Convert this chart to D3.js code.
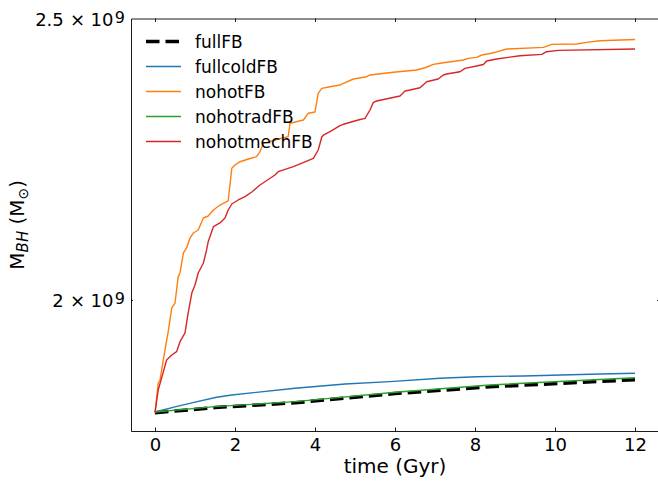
<!DOCTYPE html>
<html><head><meta charset="utf-8">
<script src="https://cdn.jsdelivr.net/npm/d3@7"></script>
<style>body{margin:0;background:#fff}svg{display:block}</style>
</head><body>
<svg id="c" width="658" height="481"></svg>
<script>
// ---- data (masses in units of 10^9 Msun, time in Gyr) ----
const seriesNames  = ["fullFB","fullcoldFB","nohotFB","nohotradFB","nohotmechFB"];
const seriesColors = ["#000000","#1f77b4","#ff7f0e","#2ca02c","#d62728"];
const xTickValues = [0,2,4,6,8,10,12];
const yTickValues = [2.0, 2.5];
const yTickMantissa = ["2", "2.5"];
const yTickExponent = "9";

const fullFB_t = [0, 1.5, 3.5, 6, 8.375, 12];
const fullFB_m = [1.829, 1.8365, 1.8435, 1.857, 1.867, 1.8775];

const fullcoldFB_t = [0, 0.5, 1.0, 1.54, 1.92, 3.5, 4.75, 5.875, 7.125, 8.04, 9.21, 10.875, 12];
const fullcoldFB_m = [1.830, 1.8375, 1.8445, 1.8515, 1.8549, 1.8648, 1.8712, 1.8746, 1.8796, 1.8820, 1.8831, 1.8856, 1.8871];

const nohotradFB_t = [0, 1.5, 3.5, 6, 8.375, 12];
const nohotradFB_m = [1.830, 1.8378, 1.8451, 1.8589, 1.8697, 1.8805];

const nohotFB_t = [0, 0.08, 0.125, 0.25, 0.33, 0.42, 0.5, 0.58, 0.625, 0.71, 0.79, 0.875, 0.96, 1.08, 1.21, 1.33, 1.46, 1.625, 1.79, 1.83, 1.92, 2.0, 2.125, 2.375, 2.54, 2.625, 2.71, 3.0, 3.33, 3.375, 3.71, 3.83, 4.0, 4.08, 4.17, 4.375, 4.625, 4.71, 4.96, 5.29, 5.375, 5.96, 6.54, 6.75, 6.96, 7.21, 7.71, 7.83, 8.04, 8.17, 8.375, 8.5, 8.79, 9.71, 9.92, 10.54, 10.79, 11.125, 12];
const nohotFB_m = [1.829, 1.8722, 1.8771, 1.9223, 1.9504, 1.9874, 1.9952, 2.0373, 2.0433, 2.0759, 2.0842, 2.1007, 2.1091, 2.1141, 2.1343, 2.1377, 2.1479, 2.1564, 2.1621, 2.1633, 2.2201, 2.2259, 2.2317, 2.2374, 2.2406, 2.2495, 2.2645, 2.2704, 2.2764, 2.3007, 2.3067, 2.3190, 2.3214, 2.3560, 2.3654, 2.3684, 2.3716, 2.3748, 2.3829, 2.3873, 2.3905, 2.3956, 2.4000, 2.4043, 2.4108, 2.4139, 2.4191, 2.4223, 2.4242, 2.4287, 2.4316, 2.4339, 2.4402, 2.4435, 2.4493, 2.4499, 2.4532, 2.4563, 2.4587];

const nohotmechFB_t = [0, 0.08, 0.21, 0.29, 0.42, 0.54, 0.625, 0.75, 0.83, 0.92, 1.0, 1.08, 1.21, 1.29, 1.33, 1.46, 1.625, 1.75, 1.83, 1.92, 2.08, 2.25, 2.42, 2.625, 3.0, 3.08, 3.46, 3.96, 4.08, 4.17, 4.21, 4.375, 4.625, 4.71, 5.08, 5.25, 5.375, 5.46, 5.54, 6.125, 6.25, 6.375, 6.625, 6.79, 7.08, 7.21, 7.29, 7.625, 7.75, 8.04, 8.21, 8.29, 8.54, 9.125, 9.67, 9.79, 10.08, 12];
const nohotmechFB_m = [1.829, 1.8623, 1.8895, 1.9071, 1.9147, 1.9197, 1.9350, 1.9484, 1.9795, 2.0111, 2.0239, 2.0433, 2.0595, 2.0809, 2.0946, 2.1196, 2.1259, 2.1343, 2.1479, 2.1581, 2.1650, 2.1707, 2.1788, 2.1909, 2.2083, 2.2141, 2.2229, 2.2377, 2.2525, 2.2758, 2.2794, 2.2854, 2.2963, 2.2989, 2.3067, 2.3098, 2.3251, 2.3393, 2.3417, 2.3510, 2.3603, 2.3622, 2.3665, 2.3778, 2.3829, 2.3905, 2.3924, 2.3967, 2.4032, 2.4076, 2.4105, 2.4171, 2.4210, 2.4273, 2.4300, 2.4350, 2.4377, 2.4402];

const seriesT = [fullFB_t, fullcoldFB_t, nohotFB_t, nohotradFB_t, nohotmechFB_t];
const seriesM = [fullFB_m, fullcoldFB_m, nohotFB_m, nohotradFB_m, nohotmechFB_m];
const drawOrder = [0,1,2,3,4];

// ---- layout ----
const L = 131, R = 659, T = 18.5, B = 431;
const FONT = "DejaVu Sans, Liberation Sans, sans-serif";
const svg = d3.select("#c");
const x = d3.scaleLinear().domain([-0.6, 12.6]).range([L, R]);
const y = d3.scaleLog().domain([1.8027, 2.5]).range([B, T]);

// lines
const line = d3.line().x(d => x(d[0])).y(d => y(d[1]));
const g = svg.append("g");
drawOrder.forEach(i => {
  const pts = seriesT[i].map((t, k) => [t, seriesM[i][k]]);
  const p = g.append("path").datum(pts).attr("d", line)
    .attr("fill", "none").attr("stroke", seriesColors[i])
    .attr("stroke-linejoin", "round");
  if (i === 0) p.attr("stroke-width", 3.5).attr("stroke-dasharray", "13.5,6");
  else p.attr("stroke-width", 1.4);
});

// axes (ticks inward)
const xb = svg.append("g").attr("transform", `translate(0,${B})`)
  .call(d3.axisBottom(x).tickValues(xTickValues).tickSizeInner(-3.5).tickSizeOuter(0).tickPadding(7.2).tickFormat(d3.format("d")));
const xt = svg.append("g").attr("transform", `translate(0,${T})`)
  .call(d3.axisTop(x).tickValues(xTickValues).tickSizeInner(-3.5).tickSizeOuter(0).tickFormat(""));
const yl = svg.append("g").attr("transform", `translate(${L},0)`)
  .call(d3.axisLeft(y).tickValues([2.0]).tickSizeInner(-2).tickSizeOuter(0).tickFormat(""));
const yr = svg.append("g").attr("transform", `translate(${R},0)`)
  .call(d3.axisRight(y).tickValues([2.0]).tickSizeInner(-2).tickSizeOuter(0).tickFormat(""));
[xb, xt, yl, yr].forEach(a => {
  a.select(".domain").attr("stroke", "#000").attr("stroke-width", 0.9);
  a.selectAll(".tick line").attr("stroke", "#000").attr("stroke-width", 0.9);
  a.selectAll(".tick text").attr("font-family", FONT).attr("font-size", 18).attr("fill", "#000");
});

// y tick labels  (mantissa × 10^exp)
yTickValues.forEach((v, i) => {
  const by = y(v) + 7.5;
  const base = { "font-family": FONT, "fill": "#000" };
  const mk = (xx, anchor, size, txt, yy) => {
    const t = svg.append("text").attr("x", xx).attr("y", yy).attr("text-anchor", anchor)
      .attr("font-size", size).text(txt);
    Object.entries(base).forEach(([k, val]) => t.attr(k, val));
  };
  mk(63.8, "end", 18, yTickMantissa[i], by);
  mk(77.5, "middle", 18, "\u00d7", by);
  mk(113.5, "end", 18, "10", by);
  mk(114.8, "start", 16, yTickExponent, by - 3.5);
});

// axis labels
svg.append("text").attr("x", (L + R) / 2).attr("y", 473).attr("text-anchor", "middle")
  .attr("font-family", FONT).attr("font-size", 20).attr("fill", "#000").text("time (Gyr)");
const ylab = svg.append("text").attr("transform", `translate(23.5,${(T + B) / 2}) rotate(-90)`)
  .attr("text-anchor", "middle").attr("font-family", FONT).attr("font-size", 20).attr("fill", "#000");
ylab.append("tspan").text("M");
ylab.append("tspan").attr("font-size", 15).attr("font-style", "italic").attr("dy", 4).text("BH");
ylab.append("tspan").attr("dy", -4).text(" (M");
ylab.append("tspan").attr("font-size", 14).attr("dy", 4).text("\u2299");
ylab.append("tspan").attr("dy", -4).text(")");

// legend
const leg = svg.append("g");
seriesNames.forEach((n, i) => {
  const yy = 41.5 + i * 25;
  const l = leg.append("line").attr("x1", 146).attr("x2", 181).attr("y1", yy).attr("y2", yy)
    .attr("stroke", seriesColors[i]);
  if (i === 0) l.attr("stroke-width", 3.5).attr("stroke-dasharray", "13.5,6");
  else l.attr("stroke-width", 1.4);
  leg.append("text").attr("x", 195).attr("y", yy + 6).attr("font-family", FONT)
    .attr("font-size", 17).attr("fill", "#000").text(n);
});
</script>
</body></html>
